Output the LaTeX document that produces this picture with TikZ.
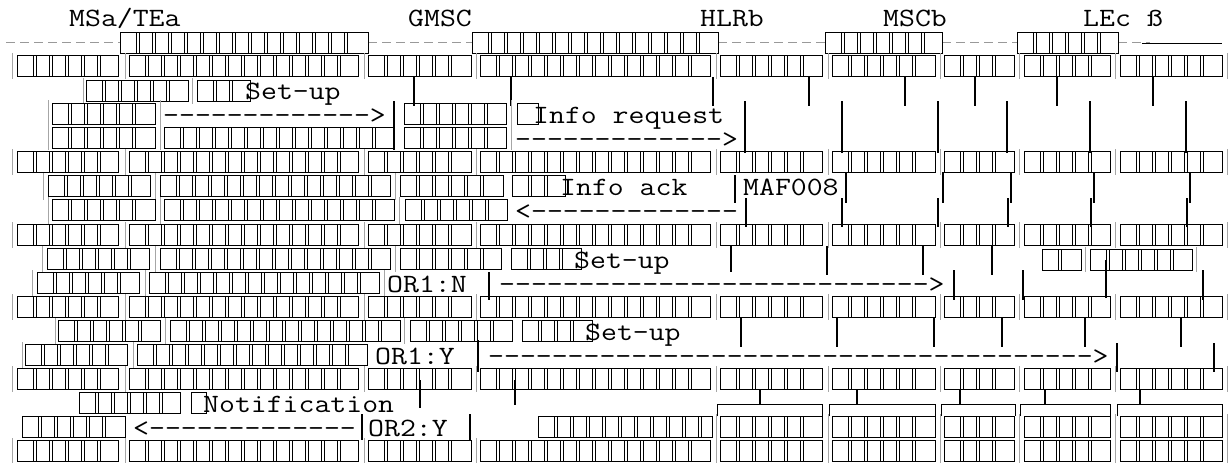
\documentclass[tikz,border=0pt]{standalone}
\usepackage{fontspec}
\newfontfamily\monofnt[FakeStretch=1.17]{Latin Modern Mono}
\tikzset{
 tofu/.style={line width=1pt, draw=black},
 tickl/.style={line width=1.8pt, black},
 barl/.style={line width=0.9pt, gray!70},
 hdash/.style={line width=1pt, gray!80, dash pattern=on 9pt off 5pt},
 txt/.style={anchor=base west, inner sep=0pt, font=\monofnt\fontsize{26.4}{26.4}\selectfont},
}
\newcommand\tofu[3]{%
 \draw[tofu] (#1,#3) rectangle (#2,#3+21);
 \pgfmathsetmacro\tofuend{#2-8}%
 \foreach \k in {1,...,16}{%
   \pgfmathsetmacro\xx{#1+16*\k}%
   \ifdim\xx pt<\tofuend pt
     \draw[tofu,line width=0.8pt] (\xx,#3) -- (\xx,#3+21) (\xx+3,#3) -- (\xx+3,#3+21);
   \fi}}
\newcommand\fullrow[1]{%
 \foreach \a/\b in {17/118,129/358,368/471,480/710,720/822,832/935,944/1014,1024/1110,1120/1222}{\tofu{\a}{\b}{#1}}%
 \foreach \x in {12,125,364,476,716,828,940,1019,1115,1227}{\draw[barl] (\x,#1-2) -- (\x,#1+24);}}
\newcommand\ticks[3]{\foreach \x in {#1}{\draw[tickl] (\x,#2) -- (\x,#3);}}
\newcommand\bars[3]{\foreach \x in {#1}{\draw[barl] (\x,#2) -- (\x,#3);}}
\begin{document}
\begin{tikzpicture}[x=1pt,y=-1pt]
\fill[white] (0,0) rectangle (1232,463);
\useasboundingbox (0,0) rectangle (1232,463);
% row 0 labels
\node[txt] (la) at (69,27) {MSa/TEa};
\node[txt] (lb) at (408,27) {GMSC};
\node[txt] (lc) at (700,27) {HLRb};
\node[txt] (ld) at (883,27) {MSCb};
\node[txt] (le) at (1083,27) {LEc ß};
% row 1 header
\draw[hdash] (6,42.5) -- (120,42.5);
\draw[hdash] (368,42.5) -- (472,42.5);
\draw[hdash] (718,42.5) -- (825,42.5);
\draw[hdash] (942,42.5) -- (1017,42.5);
\draw[hdash] (1118,42.5) -- (1150,42.5);
\draw[line width=1pt] (1142,43) -- (1222,43);
\tofu{120}{368}{32}
\tofu{472}{718}{32}
\tofu{825}{942}{32}
\tofu{1017}{1118}{32}
% row 2
\fullrow{55}
% row 3
\bars{83,192}{78}{104}
\tofu{86}{188}{80}
\tofu{197}{250}{80}
\node[txt] (s1) at (245,99) {Set-up};
\ticks{414,511,713,809,905,975,1057,1153}{77}{106}
% row 4
\bars{48,160}{100}{150}
\tofu{52}{155}{103}
\node[txt] (a1) at (163,123) {-------------{}>};
\ticks{394}{101}{150}
\tofu{404}{506}{103}
\bars{511}{100}{150}
\tofu{517}{538}{103}
\node[txt] (t1) at (533,123) {Info request};
\ticks{745,842,938,1007,1090,1186}{101}{153}
% row 5
\tofu{52}{155}{127}
\tofu{164}{394}{127}
\tofu{404}{506}{127}
\node[txt] (a2) at (515,147) {-------------{}>};
% row 6
\fullrow{151}
% row 7
\bars{43,155,395}{173}{200}
\tofu{48}{150}{175}
\tofu{160}{390}{175}
\tofu{400}{503}{175}
\tofu{512}{565}{175}
\node[txt] (t2) at (560,195) {Info ack};
\ticks{735}{175}{203}
\node[txt] (t3) at (743,195) {MAF008};
\ticks{846,943,1011,1094,1190}{172}{203}
% row 8
\bars{48,160,399}{197}{224}
\tofu{52}{155}{199}
\tofu{164}{394}{199}
\tofu{405}{507}{199}
\node[txt] (a3) at (515,219) {<{}-------------};
\ticks{746,842,938,1008,1091,1187}{198}{227}
% row 9
\fullrow{224}
% row 10
\bars{42,155,395}{246}{272}
\tofu{47}{149}{248}
\tofu{160}{390}{248}
\tofu{400}{501}{248}
\tofu{511}{581}{248}
\node[txt] (s2) at (574,268) {Set-up};
\ticks{731}{246}{272}
\ticks{827,923,992}{246}{275}
\tofu{1042}{1081}{249}
\bars{1085,1196}{247}{272}
\tofu{1090}{1192}{249}
% row 11
\bars{32,145,384}{270}{296}
\tofu{37}{139}{272}
\tofu{149}{379}{272}
\node[txt] (o1) at (387,292) {OR1:N};
\ticks{489}{272}{300}
\node[txt] (a4) at (499,292) {---------------------------{}>};
\ticks{954,1023,1203}{270}{300}
\ticks{1106}{260}{298}
% row 12
\fullrow{296}
% row 13
\bars{55,165,404}{318}{344}
\tofu{58}{160}{320}
\tofu{170}{400}{320}
\tofu{410}{512}{320}
\tofu{522}{592}{320}
\node[txt] (s3) at (585,340) {Set-up};
\ticks{741,837,934,1002,1085,1181}{318}{347}
% row 14
\bars{22,133}{342}{368}
\tofu{25}{127}{344}
\tofu{137}{367}{344}
\node[txt] (o2) at (375,364) {OR1:Y};
\ticks{478}{340}{372}
\node[txt] (a5) at (488,364) {--------------------------------------{}>};
\ticks{1117,1214}{343}{372}
% row 15
\fullrow{368}
% row 16
\tofu{79}{180}{392}
\tofu{191}{206}{392}
\node[txt] (t4) at (203,412) {Notification};
\ticks{420}{380}{408}
\ticks{515}{380}{405}
\foreach \a/\b in {717/822,829/935,941/1015,1020/1110,1117/1222}{\draw[tofu] (\a,416) -- (\a,404) -- (\b,404) -- (\b,416);}
\ticks{760,857,960,1045,1140}{390}{404}
% row 17
\tofu{22}{125}{416}
\node[txt] (a6) at (133,436) {<{}-------------};
\ticks{362}{414}{440}
\node[txt] (o3) at (368,436) {OR2:Y};
\ticks{470}{414}{440}
\tofu{538}{712}{416}
\foreach \a/\b in {720/822,832/935,944/1014,1024/1110,1120/1222}{\tofu{\a}{\b}{416}}
\bars{716,828,940,1019,1115,1227}{414}{440}
% row 18
\fullrow{440}
\end{tikzpicture}
\end{document}
